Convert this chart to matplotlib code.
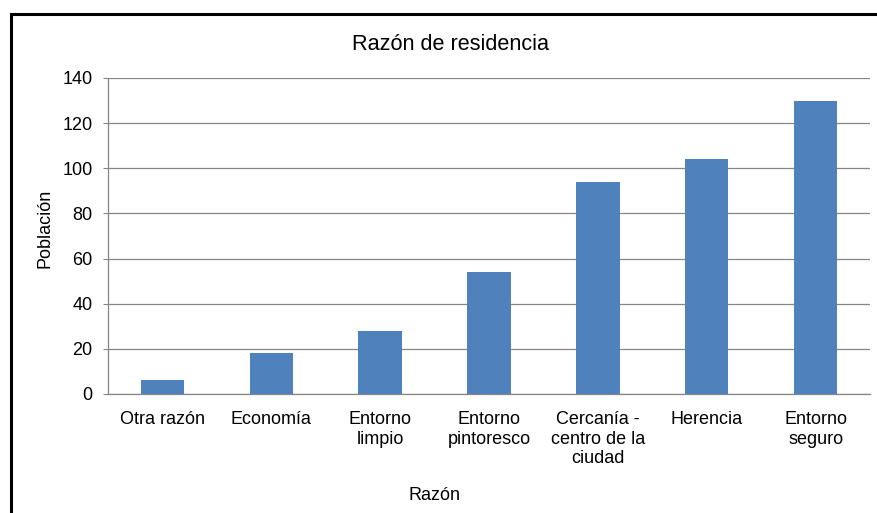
import matplotlib.pyplot as plt
from matplotlib.patches import Rectangle

plt.rcParams['font.family'] = ['Liberation Sans', 'DejaVu Sans']

categorias = ['Otra razón', 'Economía', 'Entorno\nlimpio', 'Entorno\npintoresco',
              'Cercanía -\ncentro de la\nciudad', 'Herencia', 'Entorno\nseguro']
poblacion = [6, 18, 28, 54, 94, 104, 130]
yticks = [0, 20, 40, 60, 80, 100, 120, 140]

W, H = 878, 513
fig = plt.figure(figsize=(W / 100, H / 100), dpi=100)
ax = fig.add_axes([108 / W, 1 - 394 / H, (870 - 108) / W, (394 - 78) / H])

x = range(len(categorias))
ax.bar(x, poblacion, width=0.4, color='#4F81BD', zorder=3)

ax.set_xlim(-0.5, len(categorias) - 0.5)
ax.set_ylim(0, 140)
ax.set_yticks(yticks)
ax.set_xticks(list(x))
ax.set_xticklabels(categorias, fontsize=13, linespacing=1.17)
ax.tick_params(axis='y', labelsize=13, length=3.6, color='#868686', pad=7.5)
ax.tick_params(axis='x', length=0, pad=12.5)
ax.grid(axis='y', color='#868686', linewidth=0.9, zorder=0)

for s in ['top', 'right']:
    ax.spines[s].set_visible(False)
for s in ['left', 'bottom']:
    ax.spines[s].set_color('#868686')
    ax.spines[s].set_linewidth(0.9)

fig.text(451 / W, 1 - 45 / H, 'Razón de residencia', fontsize=15.6, ha='center', va='center')
fig.text(435 / W, 1 - 496 / H, 'Razón', fontsize=13, ha='center', va='center')
fig.text(45 / W, 1 - 228 / H, 'Población', fontsize=13, ha='center', va='center', rotation=90)

# marco del gráfico (cortado a la derecha y abajo)
fig.patches.append(Rectangle((11 / W, -0.1), 1.2, 1 - 14 / H + 0.1, transform=fig.transFigure,
                             fill=False, edgecolor='black', linewidth=2.2))

fig.savefig('out.png', dpi=100)
